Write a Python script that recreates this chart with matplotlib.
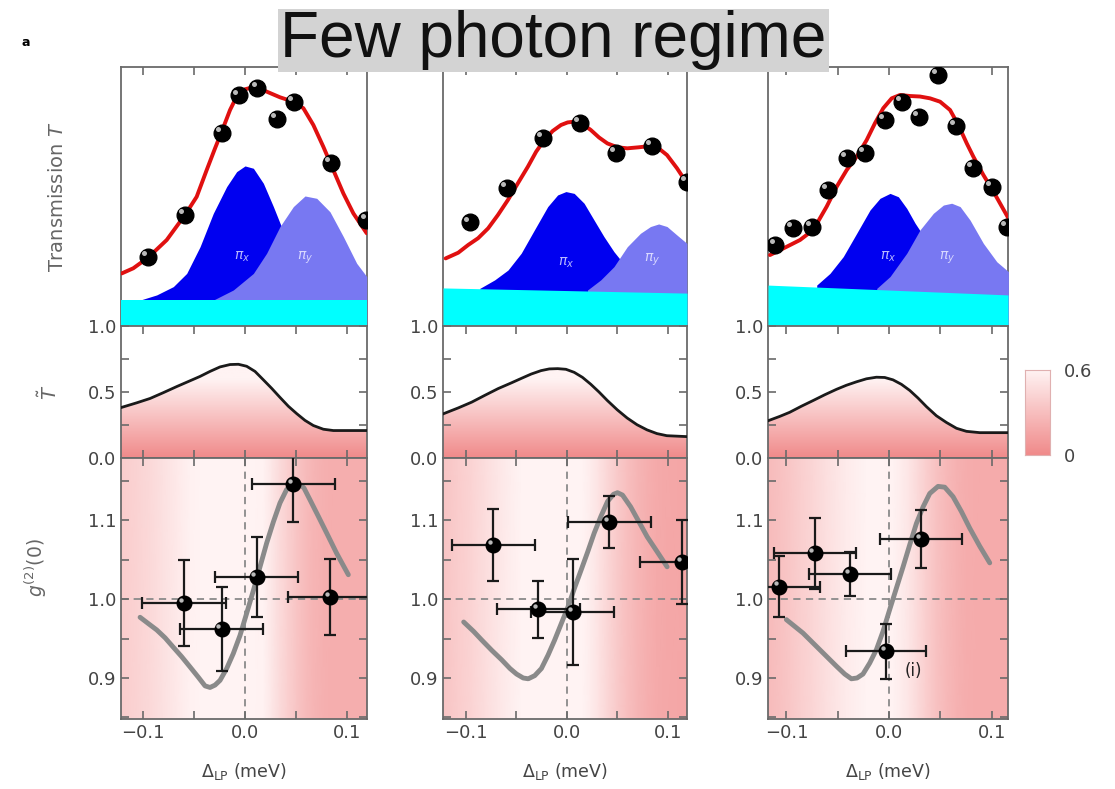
import numpy as np
import matplotlib
matplotlib.use('Agg')
import matplotlib.pyplot as plt
from matplotlib.colors import LinearSegmentedColormap
from matplotlib.ticker import MultipleLocator, FuncFormatter
from matplotlib.transforms import offset_copy

plt.rcParams['font.family'] = ['DejaVu Sans']

# ---------------- data (three detunings, left->right) ----
# top row: transmission (fraction of panel height), fit (red), measured points,
# pi_x / pi_y components
fit_x = [[-0.1209, -0.1095, -0.0948, -0.0768, -0.0588, -0.0474, -0.0376, -0.0294, -0.0229, -0.0147, -0.0082, 0.0,
          0.0098, 0.0212, 0.0343, 0.0474, 0.0572, 0.067, 0.0768, 0.0866, 0.0964, 0.1062, 0.1193],
         [-0.1202, -0.1077, -0.0978, -0.088, -0.0781, -0.0683, -0.0584, -0.0486, -0.0387, -0.0305, -0.0224, -0.0141,
          -0.0059, 0.0007, 0.0072, 0.0155, 0.0236, 0.0318, 0.0401, 0.05, 0.0598, 0.0712, 0.0828, 0.0909, 0.0992,
          0.1091, 0.1189],
         [-0.1161, -0.0998, -0.0868, -0.0739, -0.0608, -0.051, -0.0413, -0.0315, -0.0218, -0.0137, -0.0056, 0.0026,
          0.0107, 0.0205, 0.0302, 0.04, 0.0498, 0.0595, 0.0676, 0.0758, 0.0822, 0.092, 0.1018, 0.11, 0.1174]]
fit_y = [[0.203, 0.223, 0.265, 0.332, 0.429, 0.499, 0.602, 0.686, 0.750, 0.834, 0.886, 0.914,
          0.924, 0.905, 0.883, 0.866, 0.841, 0.776, 0.692, 0.602, 0.512, 0.435, 0.358],
         [0.261, 0.283, 0.313, 0.339, 0.377, 0.429, 0.487, 0.551, 0.615, 0.673, 0.718, 0.753,
          0.776, 0.786, 0.789, 0.780, 0.757, 0.728, 0.705, 0.690, 0.686, 0.690, 0.695, 0.686, 0.660,
          0.609, 0.551],
         [0.274, 0.306, 0.332, 0.371, 0.461, 0.538, 0.602, 0.654, 0.718, 0.783, 0.841, 0.879,
          0.892, 0.888, 0.886, 0.879, 0.866, 0.834, 0.776, 0.705, 0.654, 0.583, 0.519, 0.461, 0.409]]

dot_x = [[-0.095, -0.059, -0.0225, -0.006, 0.012, 0.031, 0.048, 0.084, 0.119],
         [-0.096, -0.0594, -0.0238, 0.0129, 0.0485, 0.0842, 0.1188],
         [-0.111, -0.0937, -0.0751, -0.0595, -0.041, -0.0234, -0.0039, 0.0127, 0.0293, 0.0478, 0.0654, 0.082,
          0.1005, 0.115]]
dot_y = [[0.266, 0.43, 0.745, 0.89, 0.92, 0.80, 0.865, 0.63, 0.41],
         [0.40, 0.533, 0.726, 0.784, 0.668, 0.695, 0.556],
         [0.313, 0.378, 0.382, 0.525, 0.649, 0.668, 0.795, 0.865, 0.807, 0.969, 0.772, 0.61, 0.537, 0.382]]

pix_x = [[-0.1029, -0.0866, -0.0703, -0.0572, -0.0441, -0.0311, -0.018, -0.0082, 0.0, 0.0082, 0.018, 0.0278,
          0.0343, 0.0441, 0.0539, 0.0703, 0.0833],
         [-0.0864, -0.0716, -0.0584, -0.0453, -0.0322, -0.019, -0.0092, -0.001, 0.0072, 0.017, 0.0269, 0.0367,
          0.0466, 0.0532, 0.0631, 0.0729],
         [-0.0705, -0.0576, -0.0446, -0.0315, -0.0185, -0.0088, 0.001, 0.0091, 0.0173, 0.0254, 0.0319, 0.04,
          0.0498, 0.0627, 0.0725]]
pix_y = [[0.100, 0.120, 0.152, 0.203, 0.306, 0.435, 0.538, 0.596, 0.618, 0.609, 0.551, 0.461,
          0.397, 0.306, 0.229, 0.139, 0.100],
         [0.145, 0.178, 0.216, 0.281, 0.371, 0.461, 0.506, 0.519, 0.512, 0.474, 0.409, 0.345,
          0.287, 0.255, 0.203, 0.152],
         [0.158, 0.203, 0.268, 0.358, 0.448, 0.493, 0.512, 0.499, 0.454, 0.397, 0.358, 0.306,
          0.242, 0.178, 0.152]]

piy_x = [[-0.0311, -0.0115, 0.0082, 0.0212, 0.0343, 0.0474, 0.0588, 0.0703, 0.0833, 0.0964, 0.1095, 0.1193],
         [0.0204, 0.0335, 0.0466, 0.0598, 0.0729, 0.0828, 0.0909, 0.0992, 0.1091, 0.1189],
         [-0.012, 0.001, 0.0173, 0.0302, 0.0432, 0.053, 0.0611, 0.0693, 0.079, 0.092, 0.1051, 0.1164]]
piy_y = [[0.100, 0.139, 0.203, 0.281, 0.384, 0.461, 0.502, 0.493, 0.441, 0.345, 0.242, 0.191],
         [0.139, 0.178, 0.229, 0.306, 0.358, 0.384, 0.394, 0.384, 0.351, 0.319],
         [0.145, 0.191, 0.281, 0.371, 0.435, 0.467, 0.474, 0.461, 0.409, 0.319, 0.248, 0.210]]

bg_top = [[0.10, 0.10], [0.147, 0.127], [0.158, 0.12]]   # cyan background level (left, right)

# middle row: T tilde
tl_x = [[-0.1216, -0.1062, -0.0931, -0.0801, -0.067, -0.0539, -0.0441, -0.0343, -0.0245, -0.0147, -0.0065, 0.0016,
         0.0098, 0.018, 0.0261, 0.0343, 0.0425, 0.0507, 0.0588, 0.067, 0.0768, 0.0866, 0.1196],
        [-0.1228, -0.1075, -0.0944, -0.0813, -0.0681, -0.0551, -0.0452, -0.0354, -0.0256, -0.0174, -0.0091, -0.001,
         0.0072, 0.0154, 0.0236, 0.0318, 0.04, 0.0499, 0.0597, 0.0695, 0.0794, 0.0892, 0.099, 0.119],
        [-0.118, -0.1066, -0.0969, -0.0855, -0.0741, -0.0627, -0.0513, -0.0416, -0.0318, -0.022, -0.0123, -0.0042,
         0.0039, 0.0121, 0.0202, 0.0283, 0.0365, 0.0462, 0.056, 0.0658, 0.0755, 0.0885, 0.116]]
tl_y = [[0.382, 0.418, 0.451, 0.495, 0.541, 0.585, 0.618, 0.656, 0.690, 0.708, 0.710, 0.695,
         0.656, 0.592, 0.528, 0.459, 0.392, 0.336, 0.285, 0.246, 0.218, 0.208, 0.208],
        [0.334, 0.380, 0.423, 0.475, 0.526, 0.569, 0.603, 0.636, 0.662, 0.675, 0.677, 0.672,
         0.649, 0.611, 0.559, 0.500, 0.436, 0.365, 0.303, 0.252, 0.213, 0.185, 0.169, 0.162],
        [0.282, 0.315, 0.346, 0.392, 0.435, 0.479, 0.520, 0.551, 0.577, 0.600, 0.612, 0.610,
         0.592, 0.558, 0.512, 0.454, 0.389, 0.320, 0.269, 0.225, 0.202, 0.192, 0.192]]

# bottom row: g2(0) measurements and theory
g_x = [[-0.0598, -0.0229, 0.0114, 0.0474, 0.0833],
       [-0.0728, -0.0285, 0.0059, 0.0419, 0.114],
       [-0.1073, -0.0725, -0.0383, -0.0025, 0.0309]]
g_y = [[0.995, 0.962, 1.028, 1.146, 1.0025],
       [1.0686, 0.987, 0.984, 1.098, 1.047],
       [1.016, 1.058, 1.0316, 0.934, 1.076]]
g_xerr = [[0.041, 0.041, 0.041, 0.041, 0.041],
          [0.041, 0.041, 0.041, 0.041, 0.042],
          [0.04, 0.04, 0.04, 0.039, 0.04]]
g_yerr = [[0.055, 0.053, 0.051, 0.048, 0.048],
          [0.046, 0.036, 0.067, 0.033, 0.053],
          [0.039, 0.045, 0.028, 0.035, 0.037]]

th_x = [[-0.1029, -0.0948, -0.0866, -0.0784, -0.0703, -0.0621, -0.0539, -0.0458, -0.0392, -0.0343, -0.0294,
         -0.0245, -0.018, -0.0115, -0.0049, 0.0016, 0.0082, 0.0147, 0.0212, 0.0278, 0.0343, 0.0408, 0.0467,
         0.0523, 0.0578, 0.0637, 0.0719, 0.08, 0.0899, 0.1013],
        [-0.1023, -0.0924, -0.0843, -0.0744, -0.0646, -0.0564, -0.0499, -0.0433, -0.0383, -0.0319, -0.0253,
         -0.0187, -0.0122, -0.0056, 0.001, 0.0075, 0.0141, 0.0206, 0.0271, 0.0337, 0.0403, 0.0462, 0.0501,
         0.0551, 0.0632, 0.0714, 0.0796, 0.0895, 0.0993],
        [-0.1001, -0.0839, -0.0676, -0.0513, -0.0432, -0.0367, -0.0312, -0.0254, -0.0188, -0.0123, -0.0059,
         0.0007, 0.0072, 0.0137, 0.0202, 0.0267, 0.0332, 0.0397, 0.0478, 0.0543, 0.0624, 0.0706, 0.0787,
         0.0885, 0.0982]]
th_y = [[0.977, 0.969, 0.961, 0.951, 0.939, 0.927, 0.914, 0.901, 0.890, 0.888, 0.891,
         0.897, 0.912, 0.931, 0.954, 0.982, 1.011, 1.041, 1.071, 1.098, 1.122, 1.139, 1.146,
         1.147, 1.141, 1.126, 1.105, 1.084, 1.058, 1.031],
        [0.971, 0.959, 0.948, 0.935, 0.923, 0.912, 0.905, 0.900, 0.899, 0.903, 0.912,
         0.929, 0.948, 0.969, 0.990, 1.014, 1.037, 1.060, 1.084, 1.105, 1.124, 1.133, 1.135,
         1.132, 1.117, 1.098, 1.079, 1.060, 1.041],
        [0.974, 0.957, 0.936, 0.915, 0.905, 0.899, 0.900, 0.905, 0.919, 0.936, 0.959,
         0.987, 1.014, 1.041, 1.069, 1.096, 1.117, 1.134, 1.143, 1.142, 1.130, 1.111, 1.090,
         1.067, 1.046]]

xlims = [(-0.1216, 0.1196), (-0.1228, 0.119), (-0.118, 0.116)]
lefts = [121, 443, 768]
widths = [246, 244, 240]

# ------------------------------------------------------------------------------
W, H = 1115, 789
fig = plt.figure(figsize=(W / 100, H / 100), dpi=100)

pink = LinearSegmentedColormap.from_list('pk', ['#f08a8a', '#fff3f3'])
spine_c = '#6a6a6a'
lab_c = '#444444'
fmt = FuncFormatter(lambda v, p: f'{v:.1f}'.replace('-', '\u2212'))


def fax(left, top, width, height):
    return fig.add_axes([left / W, 1 - (top + height) / H, width / W, height / H])


def style(ax, xl):
    ax.set_xlim(*xl)
    for s in ax.spines.values():
        s.set_color(spine_c)
        s.set_linewidth(1.3)
    ax.xaxis.set_major_locator(MultipleLocator(0.1))
    ax.xaxis.set_minor_locator(MultipleLocator(0.05))
    ax.xaxis.set_major_formatter(fmt)
    ax.tick_params(which='both', direction='in', top=True, right=True,
                   length=6, width=1.2, color=spine_c, labelsize=13,
                   labelcolor=lab_c)


def spheres(ax, xs, ys, ms):
    ax.plot(xs, ys, 'o', color='black', ms=ms, zorder=6)
    hi = offset_copy(ax.transData, fig=fig, x=-ms * 0.22, y=ms * 0.22, units='points')
    ax.plot(xs, ys, 'o', color='#d0d0d0', ms=ms * 0.3, mec='none', alpha=0.9,
            transform=hi, zorder=7)


pi_lab = [[(-0.003, 0.255), (0.059, 0.255)],
          [(-0.001, 0.235), (0.0846, 0.247)],
          [(-0.001, 0.255), (0.0566, 0.255)]]

for i in range(3):
    xl = xlims[i]
    # --- top: transmission
    ax = fax(lefts[i], 67, widths[i], 259)
    style(ax, xl)
    ax.set_ylim(0, 1)
    ax.tick_params(axis='y', which='both', left=False, right=False, labelleft=False)
    ax.tick_params(axis='x', labelbottom=False)
    ax.fill_between(pix_x[i], 0, pix_y[i], color='#0000f0', lw=0, zorder=2)
    ax.fill_between(piy_x[i], 0, piy_y[i], color='#7878f2', lw=0, zorder=3)
    ax.fill_between(xl, 0, bg_top[i], color='#00ffff', lw=0, zorder=4)
    ax.plot(fit_x[i], fit_y[i], color='#e01010', lw=2.8, zorder=5, solid_capstyle='round',
            solid_joinstyle='round')
    spheres(ax, dot_x[i], dot_y[i], 12)
    (ax_, ay_), (bx_, by_) = pi_lab[i]
    ax.text(ax_, ay_, r'$\pi_x$', color='#b8b8ff', fontsize=10, ha='center', zorder=5)
    ax.text(bx_, by_, r'$\pi_y$', color='#d8d8ff', fontsize=10, ha='center', zorder=5)
    if i == 0:
        ax.set_ylabel(r'Transmission $T$', fontsize=14, color='#666666', labelpad=39)

    # --- middle: T tilde
    ax = fax(lefts[i], 326, widths[i], 132)
    style(ax, xl)
    ax.set_ylim(0, 1)
    ax.yaxis.set_major_locator(MultipleLocator(0.5))
    ax.yaxis.set_minor_locator(MultipleLocator(0.25))
    ax.yaxis.set_major_formatter(fmt)
    ax.tick_params(axis='x', labelbottom=False)
    grad = np.linspace(0, 1, 256).reshape(-1, 1)
    im = ax.imshow(grad, extent=(xl[0], xl[1], 0, 1), origin='lower', aspect='auto',
                   cmap=pink, vmin=0, vmax=0.6, zorder=1)
    poly, = ax.fill(list(tl_x[i]) + [tl_x[i][-1], tl_x[i][0]],
                    list(tl_y[i]) + [0, 0], facecolor='none', edgecolor='none')
    im.set_clip_path(poly)
    ax.plot(tl_x[i], tl_y[i], color='#1a1a1a', lw=2.0, zorder=3, solid_joinstyle='round')
    if i == 0:
        ax.set_ylabel(r'$\tilde{T}$', fontsize=14, color='#666666', labelpad=19)

    # --- bottom: g2(0)
    ax = fax(lefts[i], 458, widths[i], 261)
    style(ax, xl)
    ax.set_ylim(0.848, 1.179)
    ax.yaxis.set_major_locator(MultipleLocator(0.1))
    ax.yaxis.set_minor_locator(MultipleLocator(0.05))
    ax.yaxis.set_major_formatter(fmt)
    X = np.array([tl_x[i], tl_x[i]])
    Y = np.array([[0.848] * len(tl_x[i]), [1.179] * len(tl_x[i])])
    C = np.array([tl_y[i], tl_y[i]])
    ax.pcolormesh(X, Y, C, cmap=pink, vmin=0, vmax=0.6, shading='gouraud', zorder=0)
    ax.axhline(1.0, color='#8a8a8a', lw=1.3, ls=(0, (4, 3)), zorder=1)
    ax.axvline(0.0, color='#8a8a8a', lw=1.3, ls=(0, (4, 3)), zorder=1)
    ax.plot(th_x[i], th_y[i], color='#8a8a8a', lw=3.5, zorder=2, solid_capstyle='round',
            solid_joinstyle='round')
    ax.errorbar(g_x[i], g_y[i], xerr=g_xerr[i], yerr=g_yerr[i], fmt='none',
                ecolor='#1a1a1a', elinewidth=1.6, capsize=4, capthick=1.6, zorder=4)
    spheres(ax, g_x[i], g_y[i], 10.5)
    ax.set_xlabel(r'$\mathit{\Delta}_{\rm LP}$ (meV)', fontsize=12.5, color=lab_c, labelpad=14)
    if i == 0:
        ax.set_ylabel(r'$g^{(2)}(0)$', fontsize=13.5, color='#666666', labelpad=28, y=0.58)
    if i == 2:
        ax.text(0.0155, 0.902, '(i)', fontsize=12, color='#222222')

# colour bar
cax = fax(1025, 370, 25, 85)
cax.imshow(np.linspace(0, 0.6, 256).reshape(-1, 1), extent=(0, 1, 0, 0.6), origin='lower',
           aspect='auto', cmap=pink, vmin=0, vmax=0.6)
cax.set_xticks([])
cax.set_yticks([0, 0.6])
cax.set_yticklabels(['0', '0.6'])
cax.yaxis.tick_right()
cax.tick_params(length=0, labelsize=13, labelcolor=lab_c, pad=10)
for s in cax.spines.values():
    s.set_color('#e0b0b0')
    s.set_linewidth(0.8)

# title
fig.text(553.5 / W, 1 - 40.5 / H, 'Few photon regime', family='Liberation Sans',
         fontsize=46, ha='center', va='center', color='#111111', zorder=10,
         bbox=dict(boxstyle='square,pad=0.03', facecolor='#d3d3d3', edgecolor='none'))
fig.text(26 / W, 1 - 43 / H, 'a', fontsize=9, fontweight='bold', ha='center', va='center')

fig.savefig('out.png', dpi=100)
